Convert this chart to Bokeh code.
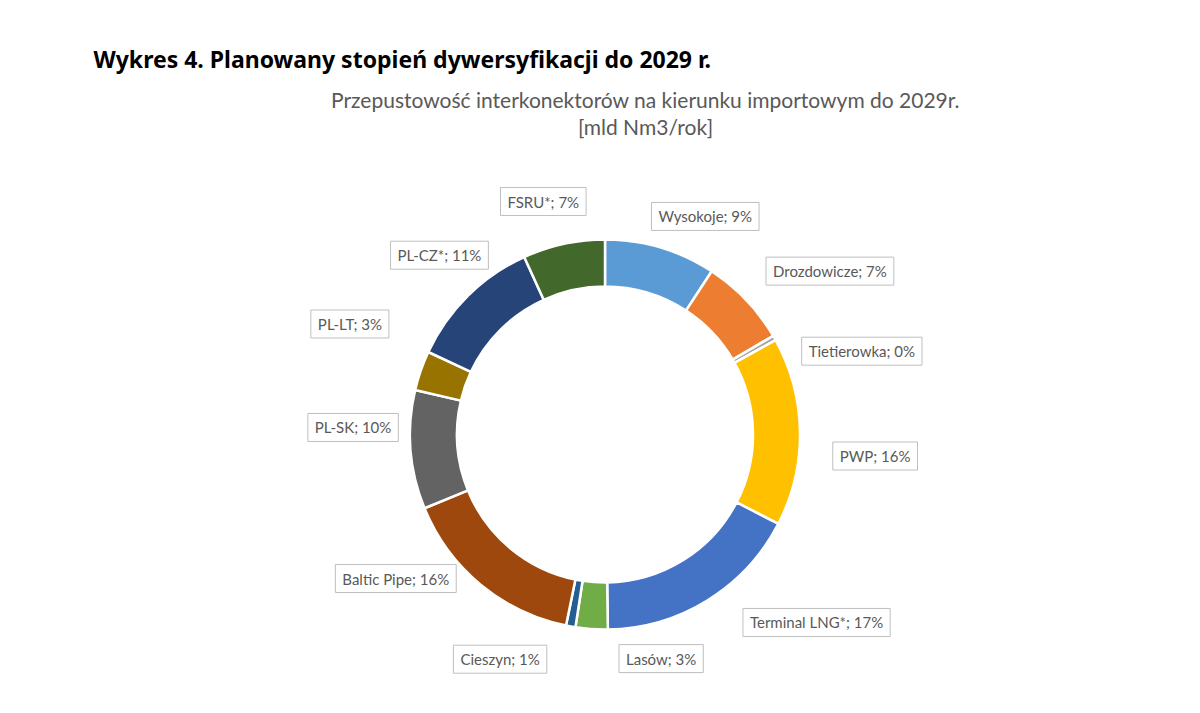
import math
from bokeh.plotting import figure
from bokeh.models import Range1d, Label, ColumnDataSource
from bokeh.embed import file_html
from bokeh.resources import INLINE

# ---- data (mld Nm3/rok) ----
categories = ["Wysokoje", "Drozdowicze", "Tietierowka", "PWP", "Terminal LNG*", "Lasów",
              "Cieszyn", "Baltic Pipe", "PL-SK", "PL-LT", "PL-CZ*", "FSRU*"]
values = [5.9, 4.7, 0.25, 10.0, 11.0, 1.7, 0.5, 10.0, 6.3, 2.1, 7.2, 4.35]
colors = ["#5B9BD5", "#ED7D31", "#A5A5A5", "#FFC000", "#4472C4", "#70AD47",
          "#255E91", "#9E480E", "#636363", "#997300", "#264478", "#43682B"]

title_text = "Wykres 4. Planowany stopień dywersyfikacji do 2029 r."
subtitle_lines = ["Przepustowość interkonektorów na kierunku importowym do 2029r.", "[mld Nm3/rok]"]

# ---- layout ----
W, H = 1200, 713
CX, CY = 604.5, H - 434
R_OUT, R_IN = 195, 148
label_nudge_deg = [8.1, 7.6, 11.7, 5.4, -16.6, -18.0, 14.9, 15.8, 6.1, 4.3, 2.0, -2.6]
label_dist = [240, 278, 270, 271, 283, 231, 248, 254, 252, 278, 244, 241]

total = sum(values)
starts, ends, mids, pct = [], [], [], []
cum = 0.0
for v in values:
    f0 = cum / total
    cum += v
    f1 = cum / total
    starts.append(math.pi / 2 - 2 * math.pi * f0)
    ends.append(math.pi / 2 - 2 * math.pi * f1)
    mids.append((f0 + f1) / 2)
    pct.append(round(100 * v / total))

src = ColumnDataSource(dict(cat=categories, val=values, color=colors,
                            start=starts, end=ends))

p = figure(width=W, height=H, x_range=Range1d(0, W), y_range=Range1d(0, H),
           output_backend="svg", toolbar_location=None, min_border=0)
p.axis.visible = False
p.grid.visible = False
p.outline_line_color = None
p.background_fill_color = "white"
p.border_fill_color = "white"

p.annular_wedge(x=CX, y=CY, inner_radius=R_IN, outer_radius=R_OUT,
                start_angle="start", end_angle="end", direction="clock",
                fill_color="color", line_color="white", line_width=2.5, source=src)

for cat, m, pc, nd, d in zip(categories, mids, pct, label_nudge_deg, label_dist):
    th = math.radians(m * 360 + nd)
    lx = CX + d * math.sin(th)
    ly = CY + d * math.cos(th)
    p.add_layout(Label(x=lx, y=ly, text=f"{cat}; {pc}%", text_align="center",
                       text_baseline="middle", text_font="Lato", text_font_size="15px",
                       text_color="#595959", border_line_color="#BFBFBF",
                       border_line_width=1, background_fill_color="white",
                       padding=(7, 5)))

p.add_layout(Label(x=93, y=H - 58, text=title_text, text_align="left",
                   text_baseline="middle", text_font="Noto Sans",
                   text_font_style="bold", text_font_size="23px", text_color="#000000"))
p.add_layout(Label(x=645, y=H - 99, text=subtitle_lines[0], text_align="center",
                   text_baseline="middle", text_font="Lato", text_font_size="21px",
                   text_color="#595959"))
p.add_layout(Label(x=645, y=H - 126, text=subtitle_lines[1], text_align="center",
                   text_baseline="middle", text_font="Lato", text_font_size="21px",
                   text_color="#595959"))

open("out.html", "w").write(file_html(p, INLINE))
